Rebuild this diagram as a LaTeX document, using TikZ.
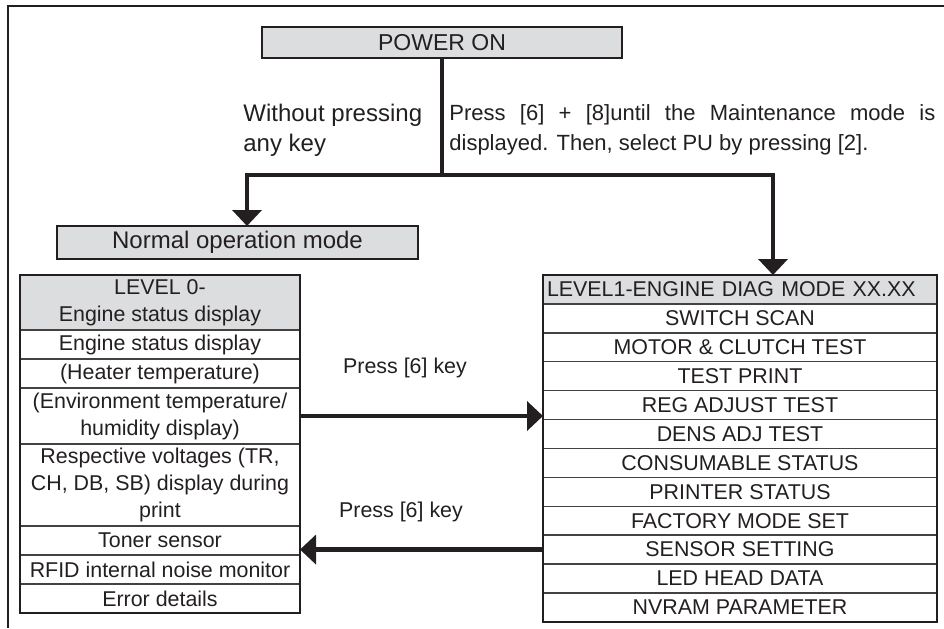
\documentclass[tikz,border=0pt]{standalone}
\usepackage{fontspec}
\setmainfont{Liberation Sans}
\usetikzlibrary{arrows.meta,calc}
\definecolor{ink}{HTML}{231F20}
\definecolor{boxgray}{HTML}{DCDDDE}

\begin{document}
\begin{tikzpicture}[x=0.5pt,y=-0.5pt,
  every node/.style={text=ink},
  frame/.style={draw=ink,line width=1.2pt},
  box/.style={draw=ink,line width=1pt,fill=boxgray,inner sep=0pt,outer sep=0pt,align=center},
  cell/.style={draw=ink!85,line width=0.7pt,inner sep=0pt,outer sep=0pt,align=center,
    font=\fontsize{10.7}{13.5}\selectfont},
  lrow/.style={cell,minimum width=140pt,minimum height=14.5pt,anchor=north},
  rrow/.style={cell,minimum width=197pt,minimum height=14.45pt,anchor=north},
  tabframe/.style={draw=ink,line width=1.2pt},
  flow/.style={draw=ink,line width=2.1pt},
  tip/.style={-{Triangle[length=8pt,width=14.5pt]}},
  note/.style={inner sep=0pt,align=left},
  lbl/.style={inner sep=0pt,font=\fontsize{10.7}{13}\selectfont}]
  \useasboundingbox (0,0) rectangle (944,628);

  % outer frame
  \draw[frame] (944,6) -- (8,6) -- (8,628);

  % power on and the two ways
  \node[box,minimum width=180pt,minimum height=15.5pt,font=\fontsize{11.5}{13}\selectfont]
    (power) at (442,42.5) {POWER ON};
  \node[note,anchor=west,font=\fontsize{12}{15}\selectfont] (nokey) at (243,130)
    {Without pressing\\any key};
  \node[note,anchor=west,font=\fontsize{11}{15}\selectfont] (keys) at (449,130)
    {\makebox[243pt][s]{Press [6] + [8]until the Maintenance mode is}\\displayed. Then, select PU by pressing [2].};
  \node[box,minimum width=180.5pt,minimum height=16.5pt,font=\fontsize{12}{14}\selectfont]
    (normal) at (237.5,242.5) {Normal operation mode};

  % level 0
  \node[lrow,fill=boxgray,minimum height=27.5pt] (l0) at (160,275) {LEVEL 0-\\Engine status display};
  \node[lrow] (l1) at (l0.south) {Engine status display};
  \node[lrow] (l2) at (l1.south) {(Heater temperature)};
  \node[lrow,minimum height=28pt] (l3) at (l2.south) {(Environment temperature/\\humidity display)};
  \node[lrow,minimum height=41pt] (l4) at (l3.south) {Respective voltages (TR,\\CH, DB, SB) display during\\print};
  \node[lrow] (l5) at (l4.south) {Toner sensor};
  \node[lrow] (l6) at (l5.south) {RFID internal noise monitor};
  \node[lrow] (l7) at (l6.south) {Error details};
  \draw[tabframe] (l0.north west) rectangle (l7.south east);

  % level 1
  \node[rrow,fill=boxgray,align=left,text width=193pt] (r0) at (740,275) {LEVEL1-ENGINE DIAG MODE XX.XX};
  \node[rrow] (r1) at (r0.south) {SWITCH SCAN};
  \node[rrow] (r2) at (r1.south) {MOTOR \& CLUTCH TEST};
  \node[rrow] (r3) at (r2.south) {TEST PRINT};
  \node[rrow] (r4) at (r3.south) {REG ADJUST TEST};
  \node[rrow] (r5) at (r4.south) {DENS ADJ TEST};
  \node[rrow] (r6) at (r5.south) {CONSUMABLE STATUS};
  \node[rrow] (r7) at (r6.south) {PRINTER STATUS};
  \node[rrow] (r8) at (r7.south) {FACTORY MODE SET};
  \node[rrow] (r9) at (r8.south) {SENSOR SETTING};
  \node[rrow] (r10) at (r9.south) {LED HEAD DATA};
  \node[rrow] (r11) at (r10.south) {NVRAM PARAMETER};
  \draw[tabframe] (r0.north west) rectangle (r11.south east);

  % connectors
  \coordinate (jn) at (442,175);
  \coordinate (jl) at (247,175);
  \coordinate (jr) at (773,175);
  \draw[flow] (power.south) -- (jn);
  \draw[flow,tip] (jn) -- (jl) -- (jl |- normal.north);
  \draw[flow,tip] (jn) -- (jr) -- (jr |- r0.north);
  \node[lbl] (press1) at (405,368) {Press [6] key};
  \node[lbl] (press2) at (401,512) {Press [6] key};
  \draw[flow,tip] (l3.east) -- (l3.east -| r0.west);
  \draw[flow,tip] (r9.west) -- (r9.west -| l0.east);
\end{tikzpicture}
\end{document}
